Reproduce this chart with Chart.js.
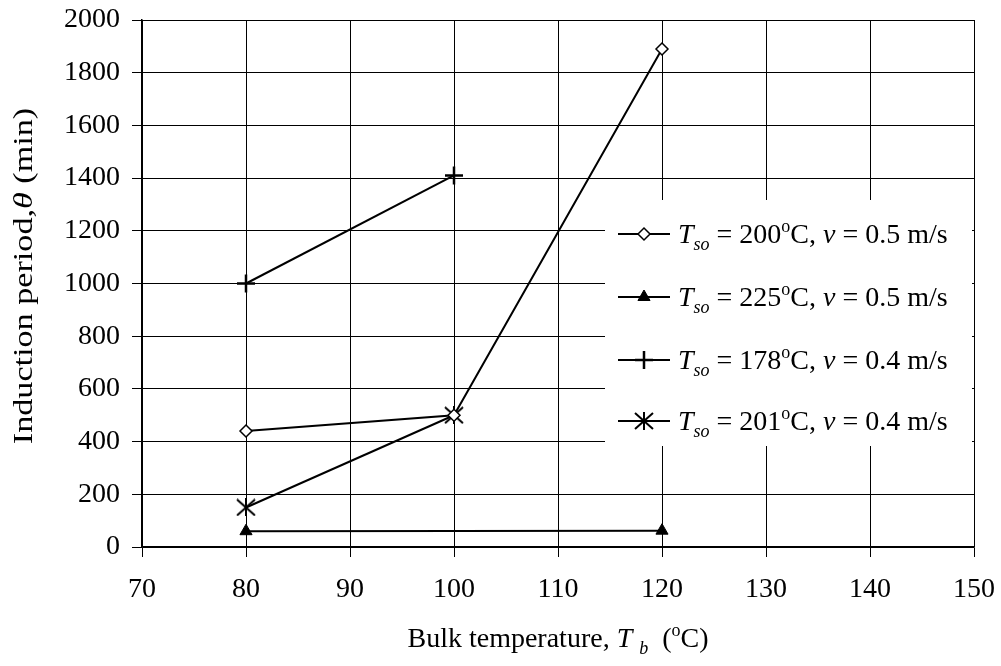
<!DOCTYPE html>
<html>
<head>
<meta charset="utf-8">
<script src="https://cdn.jsdelivr.net/npm/chart.js@4"></script>
<style>
  html, body { margin: 0; padding: 0; background: #fff; }
  #wrap { width: 1001px; height: 666px; }
</style>
</head>
<body>
<div id="wrap"><canvas id="chart" width="1001" height="666"></canvas></div>
<script>
// ---- data ----
const xTicks = [70, 80, 90, 100, 110, 120, 130, 140, 150];
const yTicks = [0, 200, 400, 600, 800, 1000, 1200, 1400, 1600, 1800, 2000];

// Tso = 200 C, v = 0.5 m/s
const bulkTempA = [80, 100, 120];
const periodA = [440, 500, 1890];
// Tso = 225 C, v = 0.5 m/s
const bulkTempB = [80, 120];
const periodB = [60, 62];
// Tso = 178 C, v = 0.4 m/s
const bulkTempC = [80, 100];
const periodC = [1000, 1410];
// Tso = 201 C, v = 0.4 m/s
const bulkTempD = [80, 100];
const periodD = [150, 500];

const surfaceTemps = ['200', '225', '178', '201'];
const velocities = ['0.5', '0.5', '0.4', '0.4'];

const FONT = '"Liberation Serif", "Times New Roman", serif';
const FS = 28;

function pairs(xs, ys) {
    return xs.map((x, i) => ({ x: x, y: ys[i] }));
}

// asterisk-like marker: an X with a vertical bar
function makeStar() {
    const c = document.createElement('canvas');
    c.width = 20;
    c.height = 18;
    const g = c.getContext('2d');
    g.strokeStyle = '#000';
    g.lineWidth = 2;
    g.beginPath();
    g.moveTo(1, 1); g.lineTo(19, 17);
    g.moveTo(19, 1); g.lineTo(1, 17);
    g.moveTo(10, 0); g.lineTo(10, 18);
    g.stroke();
    return c;
}
const starMark = makeStar();

// ---- rich text helpers (italics, sub/superscripts) ----
function partFont(p, size) {
    const s = (p.sub || p.sup) ? Math.round(size * 0.65) : size;
    return (p.italic ? 'italic ' : '') + s + 'px ' + FONT;
}

function richWidth(ctx, parts, size) {
    let w = 0;
    parts.forEach(p => {
        ctx.font = partFont(p, size);
        w += ctx.measureText(p.t).width;
    });
    return w;
}

function drawRich(ctx, parts, x, y, size) {
    ctx.textAlign = 'left';
    ctx.textBaseline = 'alphabetic';
    parts.forEach(p => {
        ctx.font = partFont(p, size);
        const dy = p.sub ? size * 0.24 : (p.sup ? -size * 0.38 : 0);
        ctx.fillText(p.t, x, y + dy);
        x += ctx.measureText(p.t).width;
    });
}

function legendParts(i) {
    return [
        { t: 'T', italic: true },
        { t: 'so', italic: true, sub: true },
        { t: ' = ' + surfaceTemps[i] },
        { t: 'o', sup: true },
        { t: 'C, ' },
        { t: 'v', italic: true },
        { t: ' = ' + velocities[i] + ' m/s' }
    ];
}

const titlesPlugin = {
    id: 'titles',
    afterDraw(chart) {
        const ctx = chart.ctx;
        const area = chart.chartArea;
        ctx.save();
        ctx.fillStyle = '#000';

        // x axis title
        const xParts = [
            { t: 'Bulk temperature, ' },
            { t: 'T', italic: true },
            { t: ' ' },
            { t: 'b', italic: true, sub: true },
            { t: '  (' },
            { t: 'o', sup: true },
            { t: 'C)' }
        ];
        const xw = richWidth(ctx, xParts, FS);
        drawRich(ctx, xParts, (area.left + area.right) / 2 - xw / 2, 647, FS);

        // y axis title (the scanned original is a bit stretched along its length)
        const yParts = [
            { t: 'Induction period,' },
            { t: 'θ', italic: true },
            { t: ' (min)' }
        ];
        const stretch = 1.22;
        const yw = richWidth(ctx, yParts, FS);
        ctx.translate(32, 276);
        ctx.rotate(-Math.PI / 2);
        ctx.scale(stretch, 1);
        drawRich(ctx, yParts, -yw / 2, 0, FS);
        ctx.restore();
    }
};

const legendPlugin = {
    id: 'boxLegend',
    afterDraw(chart) {
        const ctx = chart.ctx;
        const box = { left: 605, top: 200, right: 972, bottom: 446 };
        const rowY = [234, 297, 360, 421];
        ctx.save();
        ctx.fillStyle = '#fff';
        ctx.fillRect(box.left, box.top, box.right - box.left, box.bottom - box.top);

        chart.data.datasets.forEach((ds, i) => {
            const y = rowY[i];
            ctx.strokeStyle = '#000';
            ctx.lineWidth = 2;
            ctx.beginPath();
            ctx.moveTo(618, y);
            ctx.lineTo(670, y);
            ctx.stroke();

            ctx.fillStyle = ds.pointBackgroundColor;
            ctx.strokeStyle = ds.pointBorderColor;
            ctx.lineWidth = ds.pointBorderWidth;
            Chart.helpers.drawPoint(ctx, {
                pointStyle: ds.pointStyle,
                radius: ds.pointRadius,
                rotation: 0,
                borderWidth: ds.pointBorderWidth
            }, 644, y);

            ctx.fillStyle = '#000';
            drawRich(ctx, legendParts(i), 678, y + 9, FS);
        });
        ctx.restore();
    }
};

function baseDataset(data) {
    return {
        data: data,
        borderColor: '#000',
        borderWidth: 2,
        tension: 0,
        fill: false,
        pointBorderColor: '#000',
        pointHoverRadius: 0
    };
}

new Chart(document.getElementById('chart'), {
    type: 'line',
    data: {
        datasets: [
            Object.assign(baseDataset(pairs(bulkTempA, periodA)), {
                pointStyle: 'rectRot', pointRadius: 6,
                pointBackgroundColor: '#fff', pointBorderWidth: 1.5
            }),
            Object.assign(baseDataset(pairs(bulkTempB, periodB)), {
                pointStyle: 'triangle', pointRadius: 7,
                pointBackgroundColor: '#000', pointBorderWidth: 1
            }),
            Object.assign(baseDataset(pairs(bulkTempC, periodC)), {
                pointStyle: 'cross', pointRadius: 9,
                pointBackgroundColor: '#000', pointBorderWidth: 2.5
            }),
            Object.assign(baseDataset(pairs(bulkTempD, periodD)), {
                pointStyle: starMark, pointRadius: 9,
                pointBackgroundColor: '#000', pointBorderWidth: 2
            })
        ]
    },
    options: {
        responsive: false,
        animation: false,
        events: [],
        layout: { padding: { top: 20, right: 27, bottom: 0, left: 0 } },
        plugins: {
            legend: { display: false },
            tooltip: { enabled: false },
            title: { display: false }
        },
        scales: {
            x: {
                type: 'linear',
                min: xTicks[0],
                max: xTicks[xTicks.length - 1],
                afterBuildTicks: (s) => { s.ticks = xTicks.map(v => ({ value: v })); },
                afterFit: (s) => {
                    s.height = 119;
                    s.paddingLeft = 0;
                    s.paddingRight = 0;
                },
                ticks: {
                    color: '#000',
                    font: { family: FONT, size: FS },
                    padding: 16,
                    maxRotation: 0,
                    callback: (v) => String(v)
                },
                grid: { color: '#000', lineWidth: 1, tickLength: 10, tickColor: '#000' },
                border: { color: '#000', width: 1.5 }
            },
            y: {
                min: yTicks[0],
                max: yTicks[yTicks.length - 1],
                afterBuildTicks: (s) => { s.ticks = yTicks.map(v => ({ value: v })); },
                afterFit: (s) => {
                    s.width = 142;
                    s.paddingTop = 0;
                    s.paddingBottom = 0;
                },
                ticks: {
                    color: '#000',
                    font: { family: FONT, size: FS },
                    padding: 12,
                    callback: (v) => String(v)
                },
                grid: { color: '#000', lineWidth: 1, tickLength: 10, tickColor: '#000' },
                border: { color: '#000', width: 1.5 }
            }
        }
    },
    plugins: [titlesPlugin, legendPlugin]
});
</script>
</body>
</html>
